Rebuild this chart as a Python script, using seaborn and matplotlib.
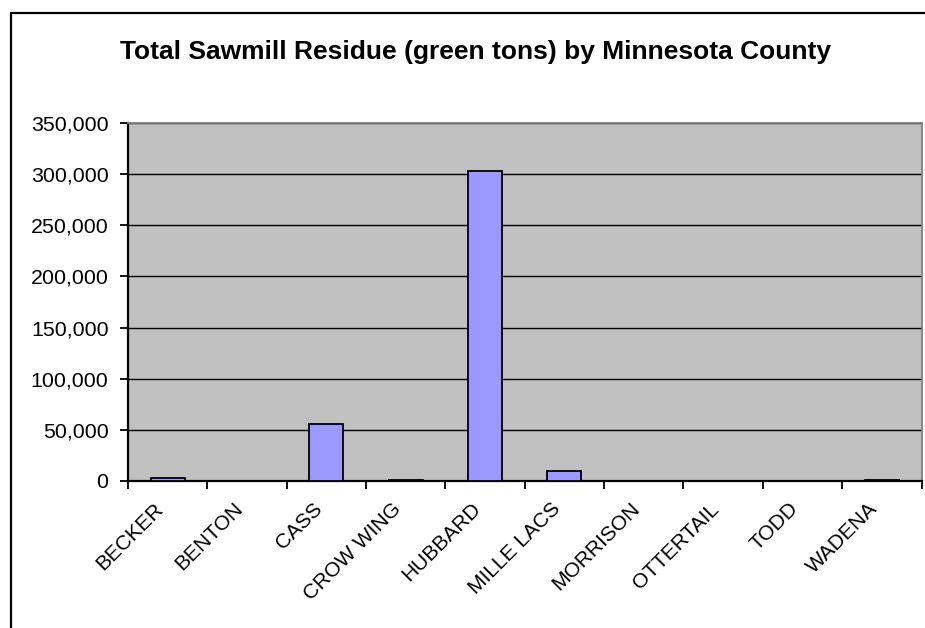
import matplotlib
matplotlib.use("Agg")
import matplotlib.pyplot as plt
from matplotlib.ticker import FuncFormatter, MultipleLocator, FixedLocator
from matplotlib.lines import Line2D
from matplotlib.transforms import ScaledTranslation
import seaborn as sns
import pandas as pd

counties = ["BECKER", "BENTON", "CASS", "CROW WING", "HUBBARD",
            "MILLE LACS", "MORRISON", "OTTERTAIL", "TODD", "WADENA"]
residue_tons = [3300, 0, 56200, 1400, 302700, 9500, 0, 0, 0, 1200]

df = pd.DataFrame({"county": counties, "tons": residue_tons})

sns.set_theme(style="white")
plt.rcParams["font.family"] = ["Liberation Sans", "DejaVu Sans"]
plt.rcParams["text.color"] = "black"
plt.rcParams["xtick.color"] = "black"
plt.rcParams["ytick.color"] = "black"
plt.rcParams["xtick.labelcolor"] = "black"
plt.rcParams["ytick.labelcolor"] = "black"

fig = plt.figure(figsize=(9.25, 6.28), dpi=100)
ax = fig.add_axes([128 / 925, 1 - 481 / 628, (921.5 - 128) / 925, (481 - 123) / 628])
ax.set_facecolor("#C0C0C0")

sns.barplot(data=df, x="county", y="tons", color="#9999FF", saturation=1,
            width=0.43, edgecolor="black", linewidth=1.3, ax=ax, zorder=3)

ax.set_ylim(0, 350000)
ax.set_xlim(-0.5, len(counties) - 0.5)
ax.yaxis.set_major_locator(MultipleLocator(50000))
ax.yaxis.set_major_formatter(FuncFormatter(lambda v, p: f"{int(v):,}"))
ax.grid(axis="y", color="black", linewidth=1.0, zorder=1)
ax.set_axisbelow(True)

ax.set_xlabel("")
ax.set_ylabel("")

# category boundary tick marks, labels centered on each slot
ax.xaxis.set_minor_locator(FixedLocator([i - 0.5 for i in range(len(counties) + 1)]))
ax.tick_params(axis="x", which="minor", length=6, width=1.3, color="black", direction="out", bottom=True)
ax.tick_params(axis="x", which="major", length=0, pad=13)
ax.tick_params(axis="y", which="major", length=6, width=1.3, color="black", direction="out", left=True, pad=8)

shift = ScaledTranslation(-14 / 100, 0, fig.dpi_scale_trans)
for lbl in ax.get_xticklabels():
    lbl.set_rotation(45)
    lbl.set_ha("right")
    lbl.set_va("top")
    lbl.set_rotation_mode("anchor")
    lbl.set_fontsize(15)
    lbl.set_color("black")
    lbl.set_transform(lbl.get_transform() + shift)
for lbl in ax.get_yticklabels():
    lbl.set_fontsize(15.4)
    lbl.set_color("black")

for side in ["left", "bottom"]:
    ax.spines[side].set_color("black")
    ax.spines[side].set_linewidth(1.6)
for side in ["top", "right"]:
    ax.spines[side].set_color("#808080")
    ax.spines[side].set_linewidth(1.3)

fig.text(475 / 925, 1 - 52 / 628, "Total Sawmill Residue (green tons) by Minnesota County",
         ha="center", va="center", fontsize=19, fontweight="bold", color="black")

# chart frame edges
fig.add_artist(Line2D([10.5 / 925, 10.5 / 925], [0, 1 - 13 / 628], color="black",
                      linewidth=1.6, transform=fig.transFigure))
fig.add_artist(Line2D([10.5 / 925, 1], [1 - 13 / 628, 1 - 13 / 628], color="black",
                      linewidth=1.6, transform=fig.transFigure))

fig.savefig("out.png", dpi=100)
